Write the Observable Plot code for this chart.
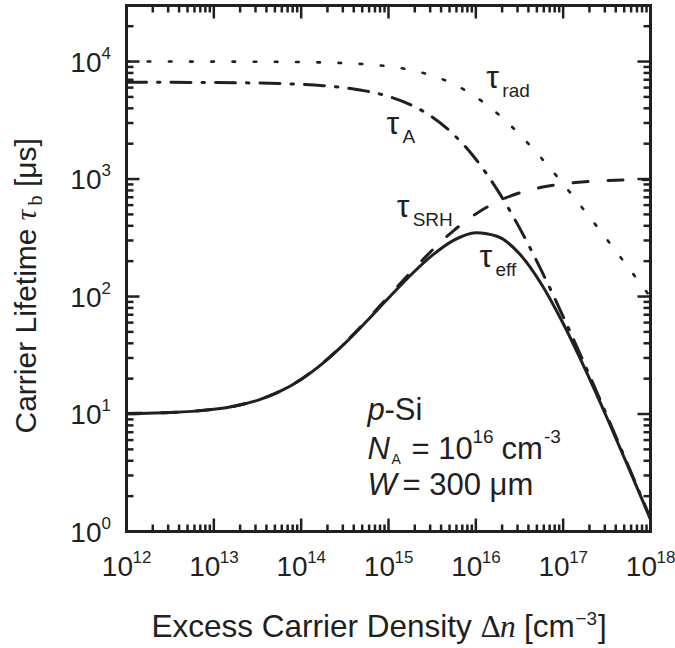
<!DOCTYPE html>
<html><head><meta charset="utf-8">
<script src="https://cdn.jsdelivr.net/npm/d3@7"></script>
<script src="https://cdn.jsdelivr.net/npm/@observablehq/plot@0.6"></script>
<style>html,body{margin:0;padding:0;background:#fff;}</style>
</head><body><div id="chart"></div>
<script>
// ---- data ----
const dn = [1e12, 1.778e12, 3.162e12, 5.623e12, 1e13, 1.778e13, 3.162e13, 5.623e13,
  1e14, 1.778e14, 3.162e14, 5.623e14, 1e15, 1.778e15, 3.162e15, 5.623e15,
  1e16, 1.778e16, 3.162e16, 5.623e16, 1e17, 1.778e17, 3.162e17, 5.623e17, 1e18];
const tauEff = [10.07, 10.15, 10.29, 10.53, 10.96, 11.72, 13.08, 15.48,
  19.70, 27.11, 39.92, 61.61, 97.01, 151.1, 224.0, 302.4,
  349.8, 324.5, 230.9, 127.8, 58.88, 24.21, 9.341, 3.479, 1.270];
const tauSRH = [10.10, 10.18, 10.31, 10.56, 10.99, 11.76, 13.12, 15.54,
  19.80, 27.30, 40.35, 62.71, 100.0, 159.5, 247.8, 366.3,
  505.0, 643.7, 762.2, 850.5, 910.0, 947.3, 969.7, 982.7, 990.2];
const tauA = [6661, 6657, 6651, 6642, 6627, 6602, 6563, 6499,
  6398, 6237, 5986, 5604, 5051, 4298, 3371, 2376,
  1474, 800, 384, 167, 67.6, 26.1, 9.73, 3.56, 1.29];
const tauRad = [9999, 9998, 9997, 9994, 9990, 9982, 9968, 9944,
  9901, 9825, 9693, 9468, 9091, 8491, 7598, 6401,
  5000, 3599, 2403, 1510, 909, 532, 307, 175, 99];

const xMajor = [1e12, 1e13, 1e14, 1e15, 1e16, 1e17, 1e18];
const xTickBase = ["10", "10", "10", "10", "10", "10", "10"];
const xTickExp = ["12", "13", "14", "15", "16", "17", "18"];
const yMajor = [1, 10, 100, 1000, 10000];
const yTickBase = ["10", "10", "10", "10", "10"];
const yTickExp = ["0", "1", "2", "3", "4"];

const tauLabelMain = ["τ", "τ", "τ", "τ"];
const tauLabelSub = ["rad", "A", "SRH", "eff"];
const tauLabelX = [1.32e16, 9.5e14, 1.24e15, 1.10e16];
const tauLabelY = [6010, 2440, 471, 177];

const blockX = [5.75e14];
const blockY = [8.81, 4.18, 2.03];

// ---- layout ----
const ink = "#231f20";
const W = 675, H = 648;
const mL = 126, mR = 25, mT = 5, mB = 117;
const innerW = W - mL - mR, innerH = H - mT - mB;
const xDom = [1e12, 1e18], yDom = [1, 3e4];
const majorLen = 13, minorLen = 7;
const sans = "'Liberation Sans', Arial, sans-serif";
const serif = "'Liberation Serif', 'DejaVu Serif', serif";

const xMinor = [];
for (let e = 12; e < 18; e++) for (let m = 2; m <= 9; m++) xMinor.push(m * Math.pow(10, e));
const yMinor = [];
for (let e = 0; e < 5; e++) for (let m = 2; m <= 9; m++) { const v = m * Math.pow(10, e); if (v < 3e4) yMinor.push(v); }

// tick length in pixels -> multiplicative factor on each log scale
const pxPerDecX = innerW / Math.log10(xDom[1] / xDom[0]);
const pxPerDecY = innerH / Math.log10(yDom[1] / yDom[0]);
const fx = len => Math.pow(10, len / pxPerDecX);
const fy = len => Math.pow(10, len / pxPerDecY);
const tk = {stroke: ink, strokeWidth: 2.5};
const xTicks = (data, len) => [
  Plot.link(data, {x1: d => d, x2: d => d, y1: () => yDom[0], y2: () => yDom[0] * fy(len), ...tk}),
  Plot.link(data, {x1: d => d, x2: d => d, y1: () => yDom[1], y2: () => yDom[1] / fy(len), ...tk})
];
const yTicks = (data, len) => [
  Plot.link(data, {y1: d => d, y2: d => d, x1: () => xDom[0], x2: () => xDom[0] * fx(len), ...tk}),
  Plot.link(data, {y1: d => d, y2: d => d, x1: () => xDom[1], x2: () => xDom[1] / fx(len), ...tk})
];

const framePiece = (str, anchor, opts) => Plot.text([str], {text: d => d, frameAnchor: anchor, lineAnchor: "bottom", textAnchor: "start", fill: ink, ...opts});
const dataPiece = (str, x, y, opts) => Plot.text([str], {x: () => x, y: () => y, text: d => d, lineAnchor: "bottom", textAnchor: "start", fill: ink, ...opts});

const bx = blockX[0];

const plot = Plot.plot({
  width: W, height: H,
  marginLeft: mL, marginRight: mR, marginTop: mT, marginBottom: mB,
  style: {fontFamily: sans, background: "white", color: ink},
  x: {type: "log", domain: xDom, axis: null},
  y: {type: "log", domain: yDom, axis: null},
  marks: [
    Plot.lineY(tauRad, {x: dn, curve: "monotone-x", stroke: ink, strokeWidth: 2.6, strokeDasharray: "2.6 18.6"}),
    Plot.lineY(tauA, {x: dn, curve: "monotone-x", stroke: ink, strokeWidth: 3, strokeDasharray: "20 11 2.5 11"}),
    Plot.lineY(tauSRH, {x: dn, curve: "monotone-x", stroke: ink, strokeWidth: 3, strokeDasharray: "15 20"}),
    Plot.lineY(tauEff, {x: dn, curve: "monotone-x", stroke: ink, strokeWidth: 3}),
    ...xTicks(xMajor, majorLen),
    ...xTicks(xMinor, minorLen),
    ...yTicks(yMajor, majorLen),
    ...yTicks(yMinor, minorLen),
    Plot.frame({stroke: ink, strokeWidth: 3}),
    Plot.text(xMajor, {x: d => d, text: xTickBase, frameAnchor: "bottom", lineAnchor: "bottom", textAnchor: "end", dx: 6.5, dy: 44, fontSize: 28, fill: ink}),
    Plot.text(xMajor, {x: d => d, text: xTickExp, frameAnchor: "bottom", lineAnchor: "bottom", textAnchor: "start", dx: 6, dy: 31, fontSize: 17, fill: ink}),
    Plot.text(yMajor, {y: d => d, text: yTickBase, frameAnchor: "left", lineAnchor: "bottom", textAnchor: "end", dx: -25, dy: 10, fontSize: 28, fill: ink}),
    Plot.text(yMajor, {y: d => d, text: yTickExp, frameAnchor: "left", lineAnchor: "bottom", textAnchor: "start", dx: -25, dy: -3, fontSize: 17, fill: ink}),
    framePiece("Excess Carrier Density", "bottom-left", {dx: 151 - mL, dy: 105, fontSize: 31.5}),
    framePiece("Δ", "bottom-left", {dx: 480 - mL, dy: 105, fontSize: 31.5, fontFamily: serif}),
    framePiece("n", "bottom-left", {dx: 499.5 - mL, dy: 105, fontSize: 31.5, fontFamily: serif, fontStyle: "italic"}),
    framePiece("[cm", "bottom-left", {dx: 523.5 - mL, dy: 105, fontSize: 31.5}),
    framePiece("−3", "bottom-left", {dx: 575 - mL, dy: 93, fontSize: 19}),
    framePiece("]", "bottom-left", {dx: 597.5 - mL, dy: 105, fontSize: 31.5}),
    framePiece("Carrier Lifetime", "left", {rotate: -90, dx: -91, dy: 165, fontSize: 30}),
    framePiece("τ", "left", {rotate: -90, dx: -91, dy: -48, fontSize: 30, fontFamily: serif, fontStyle: "italic"}),
    framePiece("b", "left", {rotate: -90, dx: -85, dy: -63, fontSize: 20, fontFamily: serif}),
    framePiece("[μs]", "left", {rotate: -90, dx: -91, dy: -81.5, fontSize: 30}),
    Plot.text(tauLabelMain, {x: tauLabelX, y: tauLabelY, text: d => d, textAnchor: "start", lineAnchor: "bottom", fontSize: 32, fill: ink}),
    Plot.text(tauLabelSub, {x: tauLabelX, y: tauLabelY, text: d => d, textAnchor: "start", lineAnchor: "bottom", dx: 16, dy: 9, fontSize: 19, fill: ink}),
    dataPiece("p", bx, blockY[0], {fontSize: 31, fontStyle: "italic"}),
    dataPiece("-Si", bx, blockY[0], {dx: 17, fontSize: 31}),
    dataPiece("N", bx, blockY[1], {fontSize: 31, fontStyle: "italic"}),
    dataPiece("A", bx, blockY[1], {dx: 24, dy: 5, fontSize: 14}),
    dataPiece("= 10", bx, blockY[1], {dx: 44, fontSize: 31}),
    dataPiece("16", bx, blockY[1], {dx: 105, dy: -16, fontSize: 19}),
    dataPiece("cm", bx, blockY[1], {dx: 134, fontSize: 31}),
    dataPiece("-3", bx, blockY[1], {dx: 176.5, dy: -16, fontSize: 19}),
    dataPiece("W", bx, blockY[2], {fontSize: 31, fontStyle: "italic"}),
    dataPiece("= 300 μm", bx, blockY[2], {dx: 35, fontSize: 31})
  ]
});

document.getElementById("chart").appendChild(plot);
</script>
</body></html>
